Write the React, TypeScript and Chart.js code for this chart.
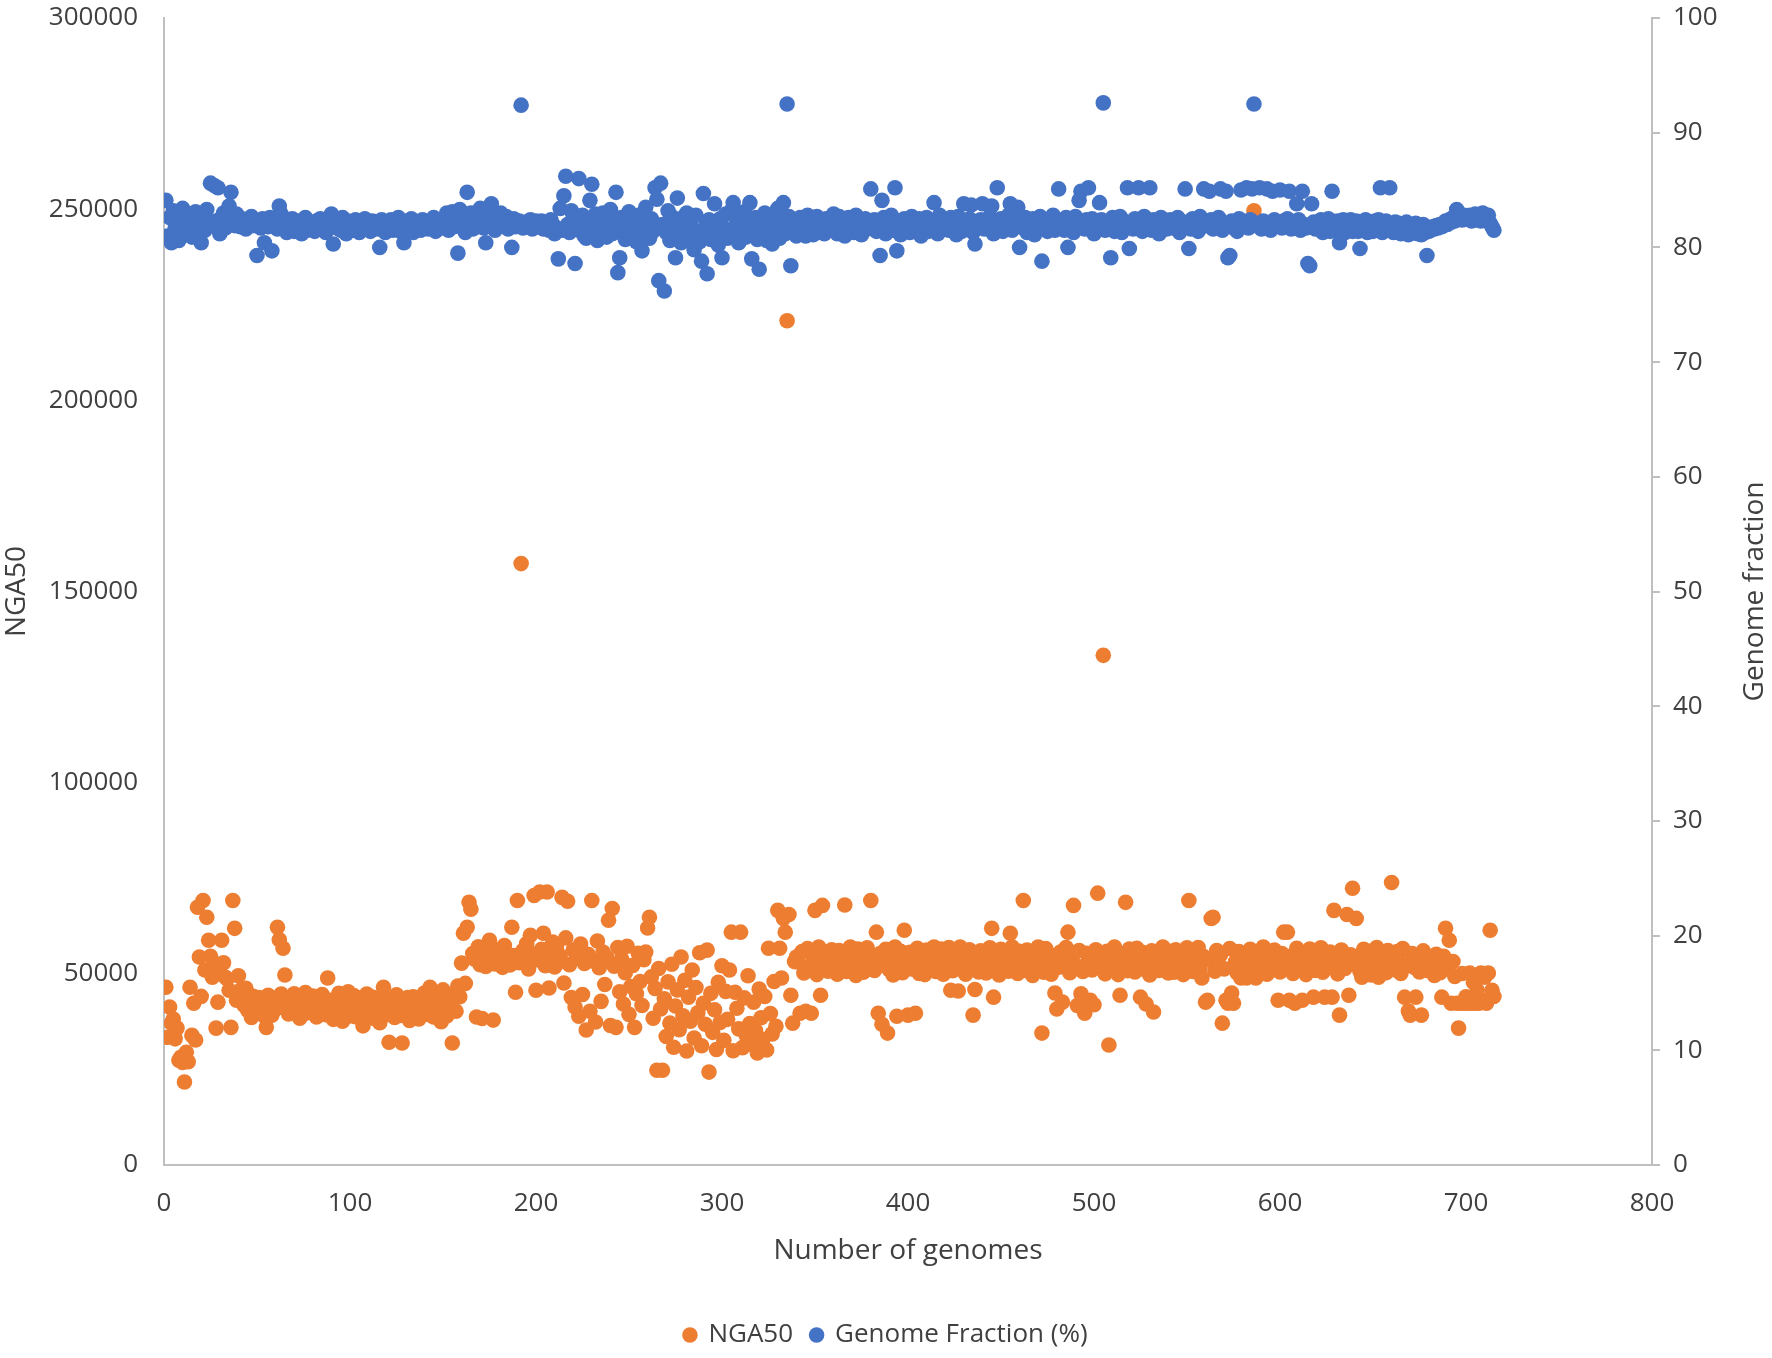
import React, { useEffect, useRef } from 'react';
import { Chart, registerables } from 'chart.js';

Chart.register(...registerables);

// NGA50 per genome (genome 1..715)
const nga50: number[] = [
  46500, 33400, 41300, 37100, 38200, 33000, 35800, 27400, 28200, 26800, 21700, 29500, 27000, 46500, 33900, 42300, 32700, 67400, 54400, 44100,
  69200, 51000, 64800, 58800, 54600, 49100, 52800, 35800, 42600, 51800, 58800, 52900, 49100, 48700, 45700, 36000, 69200, 61900, 43100, 49500,
  45700, 43100, 41800, 46200, 40500, 42900, 38600, 44100, 41200, 39700, 43800, 40300, 42600, 38900, 36000, 44400, 41500, 39200, 43300, 40800,
  62200, 58900, 44700, 56700, 49700, 42100, 39500, 43600, 41000, 44800, 40200, 42700, 38400, 43900, 41300, 45100, 39800, 42400, 40600, 44200,
  41700, 38700, 43500, 40900, 44600, 42000, 39300, 48900, 41600, 43100, 38100, 42800, 40400, 44900, 41900, 37600, 43400, 40100, 45300, 39000,
  42500, 44300, 38800, 41400, 43700, 40000, 36400, 42200, 44700, 39600, 41100, 43900, 38300, 42900, 40700, 37200, 44100, 46500, 41800, 39400,
  32100, 43000, 40500, 38600, 44500, 41200, 39100, 31900, 42700, 40300, 43800, 37800, 41500, 44000, 39900, 42400, 38200, 43600, 40900, 45000,
  41300, 39400, 46500, 42100, 38700, 44300, 40600, 43200, 37500, 45800, 41700, 39000, 44600, 42900, 31900, 43500, 40200, 46800, 44000, 52800,
  60600, 47500, 62200, 68700, 66900, 55300, 53800, 38700, 57100, 52400, 38300, 55900, 51900, 56800, 58800, 54200, 37900, 52600, 56300, 53400,
  55600, 51700, 57400, 53100, 55000, 52300, 62200, 54800, 45200, 69200, 52900, 157300, 56100, 53700, 57900, 51300, 60100, 55200, 70500, 45700,
  53600, 71400, 56400, 60600, 52100, 71400, 46300, 55500, 58300, 51800, 57000, 53000, 54700, 70000, 47600, 59400, 69000, 52400, 43800, 56200,
  41300, 54100, 38900, 57800, 44600, 52700, 35300, 55100, 40200, 69200, 53300, 37400, 58600, 51600, 42800, 55700, 47200, 54300, 64000, 36500,
  67100, 52000, 36000, 56900, 45300, 53900, 42100, 50300, 57200, 39400, 46700, 52200, 36000, 44800, 55400, 48000, 41700, 53700, 55700, 62000,
  64800, 49200, 38400, 46200, 24800, 51400, 40800, 24800, 43500, 33600, 47900, 37100, 52500, 30800, 41600, 45800, 35400, 54400, 39000, 48300,
  29800, 43900, 37600, 51000, 33200, 46400, 39800, 55500, 31200, 42300, 36800, 56200, 24300, 44900, 34700, 40600, 30200, 47800, 37300, 52100,
  32600, 45400, 38100, 51000, 60900, 29900, 45200, 41000, 35600, 60900, 30700, 43700, 33900, 49500, 37000, 31500, 42600, 35200, 29300, 46000,
  38500, 32900, 44100, 30100, 56700, 39600, 34300, 48000, 36300, 66600, 56700, 48900, 64500, 60900, 220800, 65500, 44400, 37100, 53200, 54400,
  53100, 39700, 55800, 50200, 40200, 56600, 51900, 39700, 54300, 66600, 49800, 57000, 44400, 67900, 52600, 55200, 50700, 53800, 56300, 51400,
  54700, 49900, 56100, 52300, 55400, 68000, 50600, 53500, 57000, 51700, 54900, 49600, 56500, 52900, 55700, 50400, 53300, 56800, 51200, 69200,
  54100, 50900, 60900, 39700, 55300, 36800, 52500, 56400, 34500, 51100, 54600, 49700, 57000, 38900, 53000, 55900, 50300, 61400, 52700, 39200,
  55600, 51300, 53900, 39700, 56700, 50100, 54400, 52200, 49800, 56200, 53600, 51000, 55100, 57000, 50600, 54000, 52800, 56500, 49900, 55300,
  52400, 56900, 45700, 50800, 54800, 53200, 45500, 57000, 51600, 55500, 49900, 53700, 56300, 51900, 39200, 45900, 54500, 50500, 56000, 52900,
  55800, 50200, 53400, 56800, 61900, 43900, 52100, 54900, 49700, 56400, 51500, 55200, 53000, 50700, 60600, 57000, 52600, 54300, 50100, 55900,
  53500, 69200, 50900, 56200, 52300, 54700, 49600, 55500, 51800, 57000, 53700, 34500, 50400, 56600, 52800, 55100, 49900, 54000, 45000, 40800,
  51700, 55700, 42600, 53100, 56900, 60900, 50300, 54600, 67900, 52400, 41700, 56100, 44800, 50600, 39700, 55400, 53300, 43100, 51000, 41900,
  56300, 71100, 52000, 54800, 133300, 50000, 55900, 31400, 53600, 51300, 57000, 52700, 49800, 44400, 55000, 53900, 68700, 50800, 56500, 52200,
  54400, 50500, 56700, 53000, 43900, 55600, 51200, 42100, 54100, 49700, 56000, 40000, 52500, 55300, 50900, 53800, 57000, 51600, 54700, 50200,
  55900, 52800, 50400, 56300, 53500, 51100, 55200, 49800, 54300, 56800, 69200, 52100, 50600, 55700, 53200, 56900, 51500, 48900, 54500, 42600,
  43100, 53700, 64500, 64800, 50700, 56100, 52400, 55000, 37100, 51300, 43100, 42300, 56600, 45000, 42300, 53100, 50200, 55800, 48900, 52700,
  54900, 48900, 51600, 56400, 53300, 249600, 48900, 55500, 50800, 54200, 57000, 52000, 49900, 55800, 53600, 51100, 56200, 53000, 43100, 50500,
  55300, 60900, 52600, 60900, 43100, 54600, 50100, 42300, 56700, 53400, 51700, 43100, 55100, 49800, 54000, 56500, 52300, 43900, 50900, 55600,
  53200, 56800, 50400, 43900, 54800, 51900, 55700, 43900, 66600, 52800, 50000, 39200, 56200, 53700, 51400, 65500, 44400, 55000, 72400, 52500,
  64500, 54100, 50600, 49100, 56400, 53000, 51300, 55900, 49700, 54700, 52600, 56900, 49100, 51800, 55400, 53500, 50300, 56100, 52900, 73900,
  54500, 51000, 55800, 53300, 50100, 56600, 43900, 52200, 40300, 39200, 55300, 51700, 43900, 54200, 50500, 39200, 56000, 52800, 50900, 54400,
  51900, 53600, 49600, 55100, 52400, 50300, 43900, 54600, 61900, 51200, 58800, 42300, 53200, 49300, 42300, 35800, 42300, 50100, 42300, 44000,
  42300, 50200, 42300, 47800, 42300, 45700, 42300, 50200, 43000, 49100, 42300, 50200, 61400, 45700, 44100,
];

// Genome fraction (%) per genome (genome 1..715)
const genomeFraction: number[] = [
  84.1, 81.0, 82.6, 80.4, 83.2, 81.7, 82.9, 80.6, 81.9, 83.4, 82.2, 81.3, 82.8, 81.6, 80.9, 82.4, 83.1, 81.8, 82.5, 80.4,
  82.7, 81.5, 83.3, 82.0, 85.6, 81.9, 85.4, 82.3, 85.2, 81.2, 82.6, 83.0, 81.7, 82.1, 83.6, 84.8, 82.4, 81.9, 82.9, 82.2,
  81.8, 82.5, 82.1, 81.6, 82.4, 82.0, 82.7, 81.9, 82.3, 79.3, 82.1, 81.7, 82.5, 80.4, 82.2, 81.8, 82.6, 79.7, 82.0, 82.4,
  81.6, 83.6, 82.9, 81.9, 82.4, 81.3, 82.1, 81.7, 82.5, 81.4, 82.0, 81.8, 82.3, 81.2, 81.9, 82.6, 81.5, 82.2, 81.8, 82.0,
  81.4, 82.3, 81.9, 82.5, 81.6, 82.1, 81.3, 82.4, 81.8, 82.9, 80.3, 82.0, 81.7, 82.2, 81.5, 82.6, 81.9, 81.2, 82.3, 81.8,
  82.1, 81.5, 82.4, 81.9, 81.3, 82.2, 81.7, 82.5, 81.6, 82.0, 81.4, 82.3, 81.8, 82.1, 81.6, 80.0, 82.4, 81.9, 81.3, 82.2,
  81.7, 82.4, 81.5, 82.0, 81.8, 82.6, 81.4, 82.1, 80.4, 81.9, 82.3, 81.6, 82.5, 81.3, 82.0, 81.8, 82.2, 81.5, 82.4, 81.9,
  82.1, 81.6, 82.3, 81.8, 82.6, 81.4, 82.0, 82.4, 81.7, 82.2, 81.9, 83.0, 81.5, 82.3, 83.1, 81.8, 82.7, 79.5, 83.3, 82.0,
  82.7, 81.3, 84.8, 82.4, 83.0, 81.6, 82.9, 82.2, 81.8, 83.4, 82.5, 81.7, 80.4, 82.8, 82.0, 83.8, 82.3, 81.5, 82.6, 82.1,
  83.0, 81.9, 82.4, 82.7, 81.6, 82.2, 80.0, 82.5, 81.8, 82.1, 82.3, 92.4, 81.7, 82.0, 82.2, 81.9, 82.4, 81.6, 82.1, 82.3,
  81.8, 82.0, 82.3, 81.6, 82.1, 81.9, 81.5, 82.4, 82.0, 81.2, 81.7, 79.0, 83.4, 81.5, 84.5, 86.2, 82.0, 81.3, 83.2, 82.6,
  78.6, 82.1, 86.0, 81.4, 82.8, 81.0, 80.8, 82.3, 84.1, 85.5, 81.6, 82.9, 80.6, 82.2, 81.4, 83.0, 81.8, 80.9, 82.5, 83.3,
  81.2, 82.0, 84.8, 77.8, 79.1, 82.6, 81.5, 80.7, 82.3, 83.1, 81.0, 82.4, 81.7, 80.5, 82.8, 81.3, 79.7, 82.1, 83.5, 81.6,
  80.8, 82.5, 81.4, 85.2, 84.2, 77.1, 85.6, 82.0, 76.2, 81.3, 83.2, 80.6, 82.7, 81.5, 79.1, 84.3, 81.9, 80.4, 82.6, 81.1,
  83.0, 80.9, 82.2, 81.6, 79.8, 82.8, 81.2, 80.5, 78.8, 84.7, 81.8, 77.7, 82.4, 80.7, 82.0, 83.8, 81.3, 80.2, 82.5, 79.1,
  81.7, 82.9, 80.8, 81.5, 83.2, 83.9, 81.0, 82.3, 80.4, 82.7, 81.6, 83.1, 80.9, 82.0, 83.9, 79.0, 81.4, 82.6, 80.7, 78.1,
  82.2, 81.1, 83.0, 80.6, 82.5, 81.8, 80.3, 82.9, 81.5, 83.4, 80.8, 82.1, 83.9, 81.2, 92.5, 82.7, 78.4, 81.6, 82.3, 81.0,
  81.9, 82.6, 81.3, 82.2, 81.0, 82.8, 81.6, 82.4, 81.1, 82.0, 82.7, 81.4, 82.3, 81.8, 81.2, 82.5, 81.7, 82.1, 81.5, 82.9,
  82.2, 81.2, 82.7, 81.8, 82.4, 81.0, 81.9, 82.6, 81.5, 82.1, 81.3, 82.8, 81.7, 82.3, 81.1, 82.0, 82.5, 81.6, 81.9, 85.1,
  81.8, 82.4, 81.4, 82.1, 79.3, 84.1, 82.6, 81.2, 82.0, 81.7, 82.8, 81.5, 85.2, 79.7, 82.3, 81.1, 81.9, 82.5, 81.6, 82.2,
  81.3, 82.7, 81.9, 82.2, 81.5, 82.5, 81.0, 82.0, 81.8, 82.6, 81.4, 82.3, 81.7, 83.9, 82.1, 81.2, 82.8, 81.6, 82.4, 81.9,
  82.0, 81.5, 82.6, 81.8, 82.3, 81.1, 82.7, 81.9, 81.4, 83.8, 82.2, 81.7, 82.5, 83.7, 81.3, 80.3, 82.1, 81.8, 82.4, 83.8,
  81.6, 82.3, 81.9, 82.7, 83.6, 81.2, 82.0, 85.2, 81.7, 82.5, 81.4, 82.2, 81.8, 82.8, 83.8, 81.5, 82.4, 81.9, 83.5, 80.0,
  82.1, 81.7, 82.6, 81.3, 82.3, 81.9, 82.5, 81.1, 82.0, 81.8, 82.7, 78.8, 81.6, 82.2, 81.4, 82.4, 81.9, 82.8, 81.5, 82.1,
  85.1, 81.8, 82.3, 81.5, 82.6, 80.0, 81.9, 82.2, 81.3, 82.7, 81.7, 84.1, 84.9, 82.0, 81.6, 82.4, 85.2, 81.8, 82.5, 81.2,
  82.1, 81.7, 83.9, 82.4, 92.6, 81.5, 82.2, 81.9, 79.1, 82.6, 81.4, 82.0, 81.8, 82.7, 81.3, 82.3, 81.9, 85.2, 79.9, 82.1,
  81.6, 82.5, 81.9, 85.2, 82.2, 81.4, 82.7, 81.7, 82.0, 85.2, 81.5, 82.4, 81.8, 82.1, 81.2, 82.6, 81.9, 82.3, 81.6, 82.0,
  82.4, 81.7, 82.1, 81.9, 82.6, 81.3, 82.3, 81.8, 85.1, 82.0, 79.9, 81.6, 82.5, 81.9, 82.2, 81.4, 82.7, 81.8, 85.1, 82.1,
  81.9, 84.9, 82.4, 81.6, 82.2, 81.8, 82.6, 85.1, 81.5, 82.1, 84.9, 79.1, 79.3, 82.3, 81.7, 82.0, 81.4, 82.5, 85.0, 81.9,
  82.2, 85.2, 81.7, 82.4, 85.1, 92.5, 81.9, 82.1, 85.2, 81.6, 82.3, 81.8, 85.1, 82.0, 81.5, 84.9, 82.4, 81.9, 82.2, 85.0,
  81.7, 82.3, 81.9, 82.5, 84.9, 81.6, 82.1, 81.8, 83.8, 82.4, 81.5, 84.9, 82.0, 81.7, 78.6, 78.4, 83.8, 82.2, 81.6, 82.0,
  81.6, 82.4, 81.3, 82.2, 81.7, 82.5, 81.4, 84.9, 82.1, 81.5, 82.3, 80.4, 81.6, 82.4, 81.3, 82.1, 81.7, 82.4, 81.4, 81.9,
  82.3, 81.4, 79.9, 82.1, 81.5, 82.4, 81.3, 82.0, 82.2, 81.4, 82.3, 81.6, 82.4, 85.2, 81.3, 82.1, 82.3, 81.5, 85.2, 81.9,
  81.3, 82.2, 81.5, 82.1, 81.2, 82.0, 81.4, 82.2, 81.1, 81.9, 82.0, 81.3, 82.1, 81.2, 81.8, 81.1, 82.0, 81.3, 79.3, 81.4,
  81.5, 81.8, 81.6, 81.9, 81.7, 82.0, 81.8, 82.1, 82.3, 82.0, 82.4, 82.2, 82.6, 82.3, 83.3, 82.5, 82.7, 82.4, 82.8, 82.6,
  82.5, 82.8, 82.3, 82.6, 82.9, 82.4, 82.7, 82.3, 83.0, 82.6, 82.5, 82.8, 82.1, 81.8, 81.5,
];

const seriesLabels = ['NGA50', 'Genome Fraction (%)'];
const seriesColors = ['#ED7D31', '#4472C4'];

const textColor = '#404040';
const axisColor = '#bfbfbf';
const fontFamily = "'Open Sans', sans-serif";

const App = () => {
  const chartRef = useRef<HTMLCanvasElement>(null);
  const chartInstance = useRef<Chart | null>(null);

  useEffect(() => {
    document.body.style.margin = '0';
    if (!chartRef.current) return;
    if (chartInstance.current) chartInstance.current.destroy();
    const ctx = chartRef.current.getContext('2d');
    if (!ctx) return;

    const ngaPoints = nga50.map((y, i) => ({ x: i + 1, y }));
    const fracPoints = genomeFraction.map((y, i) => ({ x: i + 1, y }));
    const plainTick = (v: string | number) => String(v);

    chartInstance.current = new Chart(ctx, {
      type: 'scatter',
      data: {
        datasets: [
          {
            label: seriesLabels[0],
            data: ngaPoints,
            yAxisID: 'y',
            backgroundColor: seriesColors[0],
            borderColor: seriesColors[0],
            pointRadius: 7.8,
            pointBorderWidth: 0,
            order: 1,
          },
          {
            label: seriesLabels[1],
            data: fracPoints,
            yAxisID: 'y1',
            backgroundColor: seriesColors[1],
            borderColor: seriesColors[1],
            pointRadius: 7.8,
            pointBorderWidth: 0,
            order: 0,
          },
        ],
      },
      options: {
        animation: false,
        responsive: true,
        maintainAspectRatio: false,
        events: [],
        layout: { padding: { top: 18, left: 0, right: 0, bottom: 0 } },
        plugins: {
          tooltip: { enabled: false },
          legend: {
            position: 'bottom',
            labels: {
              usePointStyle: true,
              pointStyle: 'circle',
              boxWidth: 11,
              boxHeight: 11,
              padding: 18,
              color: textColor,
              font: { family: fontFamily, size: 26 },
              sort: (a, b) => (a.datasetIndex ?? 0) - (b.datasetIndex ?? 0),
            },
          },
        },
        scales: {
          x: {
            type: 'linear',
            min: 0,
            max: 800,
            afterFit: (scale) => { scale.height = 139; },
            grid: { display: false, drawTicks: false },
            border: { display: true, color: axisColor, width: 2 },
            ticks: { stepSize: 100, padding: 23, color: textColor, font: { family: fontFamily, size: 26 }, callback: plainTick },
            title: {
              display: true,
              text: 'Number of genomes',
              color: textColor,
              font: { family: fontFamily, size: 28 },
              padding: { top: 0, bottom: 36 },
            },
          },
          y: {
            type: 'linear',
            position: 'left',
            min: 0,
            max: 300000,
            afterFit: (scale) => { scale.width = 164; },
            grid: { display: false, drawTicks: true, tickLength: 26 },
            border: { display: true, color: axisColor, width: 2 },
            ticks: { stepSize: 50000, padding: 0, color: textColor, font: { family: fontFamily, size: 26 }, callback: plainTick },
            title: {
              display: true,
              text: 'NGA50',
              color: textColor,
              font: { family: fontFamily, size: 28 },
              padding: { top: 0, bottom: 0 },
            },
          },
          y1: {
            type: 'linear',
            position: 'right',
            min: 0,
            max: 100,
            afterFit: (scale) => { scale.width = 120; },
            grid: { display: false, drawTicks: true, tickLength: 21 },
            border: { display: true, color: axisColor, width: 2 },
            ticks: { stepSize: 10, padding: 0, color: textColor, font: { family: fontFamily, size: 26 }, callback: plainTick },
          },
        },
      },
      plugins: [{
        id: 'rightAxisExtras',
        afterDraw: (chart) => {
          const scale = chart.scales.y1;
          const area = chart.chartArea;
          const c = chart.ctx;
          c.save();
          // short outside tick marks on the secondary axis
          c.strokeStyle = axisColor;
          c.lineWidth = 2;
          scale.ticks.forEach((t) => {
            const y = Math.round(scale.getPixelForValue(t.value));
            c.beginPath();
            c.moveTo(scale.left, y);
            c.lineTo(scale.left + 8, y);
            c.stroke();
          });
          // secondary axis title, reading bottom to top
          c.font = `28px ${fontFamily}`;
          c.fillStyle = textColor;
          c.textAlign = 'center';
          c.textBaseline = 'middle';
          c.translate(scale.right - 17, (area.top + area.bottom) / 2);
          c.rotate(-Math.PI / 2);
          c.fillText('Genome fraction', 0, 0);
          c.restore();
        },
      }],
    });

    return () => {
      if (chartInstance.current) {
        chartInstance.current.destroy();
        chartInstance.current = null;
      }
    };
  }, []);

  return (
    <div style={{ position: 'relative', width: '1772px', height: '1358px' }}>
      <canvas ref={chartRef}></canvas>
    </div>
  );
};

export default App;
